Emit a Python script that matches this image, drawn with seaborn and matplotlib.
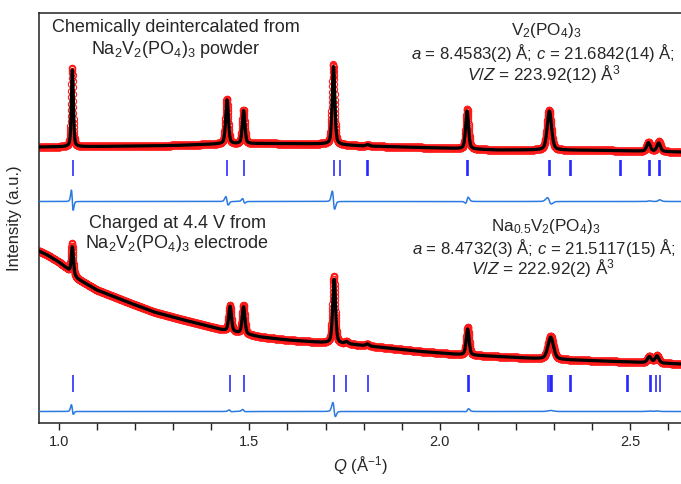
import numpy as np
import pandas as pd
import matplotlib
matplotlib.use("Agg")
import matplotlib.pyplot as plt
import seaborn as sns
from matplotlib.ticker import MultipleLocator, FixedLocator

# ---------------- data ----------------
q_range = [0.948, 2.633]
x_ticks = [1.0, 1.5, 2.0, 2.5]
x_tick_labels = ["1.0", "1.5", "2.0", "2.5"]

# Top pattern: V2(PO4)3 (chemically deintercalated)
top_bg_q = [0.948, 1.10, 1.30, 1.42, 1.55, 1.70, 1.80, 1.90, 2.00, 2.15, 2.30, 2.45, 2.633]
top_bg_i = [16.0, 16.5, 17.5, 19.0, 19.5, 19.0, 17.0, 16.0, 15.0, 13.0, 13.0, 12.5, 11.0]
top_peak_q_calc = [1.0355, 1.4415, 1.4850, 1.7210, 2.0715, 2.2875, 2.5475, 2.5745, 1.8110]
top_peak_q_obs = [1.0349, 1.4409, 1.4846, 1.7203, 2.0720, 2.2867, 2.5477, 2.5750, 1.8110]
top_peak_h_calc = [77.0, 44.0, 33.0, 78.0, 38.0, 39.0, 8.5, 8.5, 1.5]
top_peak_h_obs = [79.0, 45.0, 34.0, 80.0, 40.0, 40.0, 9.0, 10.0, 1.5]
top_peak_fwhm = [0.0062, 0.0085, 0.0080, 0.0082, 0.0090, 0.0135, 0.0110, 0.0110, 0.0100]
top_ticks_q = [1.0365, 1.4415, 1.4850, 1.7210, 1.7385, 1.8095, 1.8120, 2.0715, 2.0740,
               2.2860, 2.2885, 2.3420, 2.3445, 2.4740, 2.4765, 2.5480, 2.5505, 2.5750, 2.5775]

# Bottom pattern: Na0.5V2(PO4)3 (charged electrode)
bot_bg_q = [0.948, 0.97, 1.00, 1.02, 1.05, 1.10, 1.187, 1.25, 1.318, 1.38, 1.43, 1.53, 1.60,
            1.69, 1.76, 1.85, 1.95, 2.05, 2.15, 2.25, 2.35, 2.50, 2.633]
bot_bg_i = [172.0, 168.0, 161.0, 155.0, 144.0, 133.0, 120.0, 111.0, 104.0, 98.0, 93.0, 86.0, 83.0,
            80.5, 79.0, 75.5, 71.5, 68.5, 66.5, 64.5, 63.0, 61.0, 59.0]
bot_peak_q_calc = [1.0355, 1.4495, 1.4848, 1.7225, 2.0730, 2.2910, 2.5500, 2.5700, 1.7550, 1.8100]
bot_peak_q_obs = [1.0347, 1.4493, 1.4846, 1.7218, 2.0733, 2.2910, 2.5500, 2.5700, 1.7550, 1.8100]
bot_peak_h_calc = [27.0, 25.0, 27.0, 64.0, 26.0, 22.0, 6.0, 7.0, 2.0, 2.0]
bot_peak_h_obs = [30.0, 26.0, 28.5, 67.0, 28.0, 23.0, 6.5, 7.5, 2.0, 2.0]
bot_peak_fwhm = [0.0065, 0.0085, 0.0085, 0.0088, 0.0090, 0.0170, 0.0120, 0.0120, 0.0100, 0.0100]
bot_ticks_q = [1.0365, 1.4495, 1.4850, 1.7225, 1.7545, 1.8110, 2.0740, 2.0755,
               2.2850, 2.2885, 2.2920, 2.2955, 2.3420, 2.3440, 2.4925, 2.4945,
               2.5510, 2.5530, 2.5670, 2.5770]

# ---------------- layout / style (not data) ----------------
top_offset = 260.0
bot_offset = 0.0
top_diff_level = 221.5
bot_diff_level = 11.5
top_tick_span = (247, 263)
bot_tick_span = (31, 48)

RED = "#ff1a1a"
BLUE_TICK = "#1a1aff"
BLUE_DIFF = "#2a7ae2"


def profile(q, centers, heights, fwhms, bg_q, bg_i, eta=0.4):
    y = np.interp(q, bg_q, bg_i)
    for c, h, w in zip(centers, heights, fwhms):
        d2 = 4.0 * (q - c) ** 2 / w ** 2
        y = y + h * (eta / (1.0 + d2) + (1 - eta) * np.exp(-np.log(2) * d2))
    return y


q = np.arange(q_range[0], q_range[1], 0.0004)

top_calc = profile(q, top_peak_q_calc, top_peak_h_calc, top_peak_fwhm, top_bg_q, top_bg_i)
top_obs = profile(q, top_peak_q_obs, top_peak_h_obs, top_peak_fwhm, top_bg_q, top_bg_i)
bot_calc = profile(q, bot_peak_q_calc, bot_peak_h_calc, bot_peak_fwhm, bot_bg_q, bot_bg_i)
bot_obs = profile(q, bot_peak_q_obs, bot_peak_h_obs, bot_peak_fwhm, bot_bg_q, bot_bg_i)

df = pd.DataFrame({
    "Q": q,
    "top_obs": top_obs + top_offset,
    "top_calc": top_calc + top_offset,
    "top_diff": top_obs - top_calc + top_diff_level,
    "bot_obs": bot_obs + bot_offset,
    "bot_calc": bot_calc + bot_offset,
    "bot_diff": bot_obs - bot_calc + bot_diff_level,
})

# ---------------- figure ----------------
sns.set_style("ticks")
plt.rcParams["font.family"] = ["Liberation Sans", "DejaVu Sans"]
plt.rcParams["mathtext.fontset"] = "custom"
plt.rcParams["mathtext.rm"] = "Liberation Sans"
plt.rcParams["mathtext.it"] = "Liberation Sans:italic"
plt.rcParams["mathtext.bf"] = "Liberation Sans:bold"

W, H = 681, 484
fig = plt.figure(figsize=(W / 100, H / 100), dpi=100)
ax = fig.add_axes([39 / W, 1 - 423 / H, 1 - 39 / W, (423 - 13) / H])

for obs_col in ["top_obs", "bot_obs"]:
    sns.lineplot(data=df, x="Q", y=obs_col, ax=ax, estimator=None, sort=False,
                 linestyle="", marker="o", markersize=4.5, markerfacecolor="none",
                 markeredgecolor=RED, markeredgewidth=0.8, color=RED, zorder=2)
for calc_col in ["top_calc", "bot_calc"]:
    sns.lineplot(data=df, x="Q", y=calc_col, ax=ax, estimator=None, sort=False,
                 color="black", linewidth=2.3, zorder=3)
for diff_col in ["top_diff", "bot_diff"]:
    sns.lineplot(data=df, x="Q", y=diff_col, ax=ax, estimator=None, sort=False,
                 color=BLUE_DIFF, linewidth=1.1, zorder=3)

ax.vlines(top_ticks_q, top_tick_span[0], top_tick_span[1], color=BLUE_TICK, linewidth=1.1)
ax.vlines(bot_ticks_q, bot_tick_span[0], bot_tick_span[1], color=BLUE_TICK, linewidth=1.1)

ax.set_xlim(q_range)
ax.set_ylim(0, 410)
ax.set_yticks([])
ax.xaxis.set_major_locator(FixedLocator(x_ticks))
ax.set_xticklabels(x_tick_labels)
ax.xaxis.set_minor_locator(MultipleLocator(0.1))
ax.tick_params(axis="x", which="both", direction="out", length=5, width=1.0,
               labelsize=10.5, pad=3.5, color="#222222")
for s in ["top", "left", "bottom"]:
    ax.spines[s].set_visible(True)
    ax.spines[s].set_linewidth(1.1)
    ax.spines[s].set_color("#222222")
ax.spines["right"].set_visible(False)

ax.set_xlabel("$Q$ (Å$^{-1}$)", fontsize=12, labelpad=4)
ax.set_ylabel("Intensity (a.u.)", fontsize=12, labelpad=12)


def ftext(x, y, s, size=12.5, **kw):
    fig.text(x / W, 1 - y / H, s, ha="center", va="center", fontsize=size, **kw)


ftext(176, 28, "Chemically deintercalated from", size=13)
ftext(176, 50, "Na$_2$V$_2$(PO$_4$)$_3$ powder", size=13)
ftext(546, 31, "V$_2$(PO$_4$)$_3$", size=12.3)
ftext(543, 53, "$a$ = 8.4583(2) Å; $c$ = 21.6842(14) Å;", size=12.1)
ftext(544, 75, "$V$/$Z$ = 223.92(12) Å$^3$", size=12.3)

ftext(177, 223, "Charged at 4.4 V from", size=13)
ftext(177, 243, "Na$_2$V$_2$(PO$_4$)$_3$ electrode", size=13)
ftext(546, 227, "Na$_{0.5}$V$_2$(PO$_4$)$_3$", size=12.3)
ftext(544, 248, "$a$ = 8.4732(3) Å; $c$ = 21.5117(15) Å;", size=12.1)
ftext(543, 269, "$V$/$Z$ = 222.92(2) Å$^3$", size=12.3)

fig.savefig("out.png", dpi=100)
